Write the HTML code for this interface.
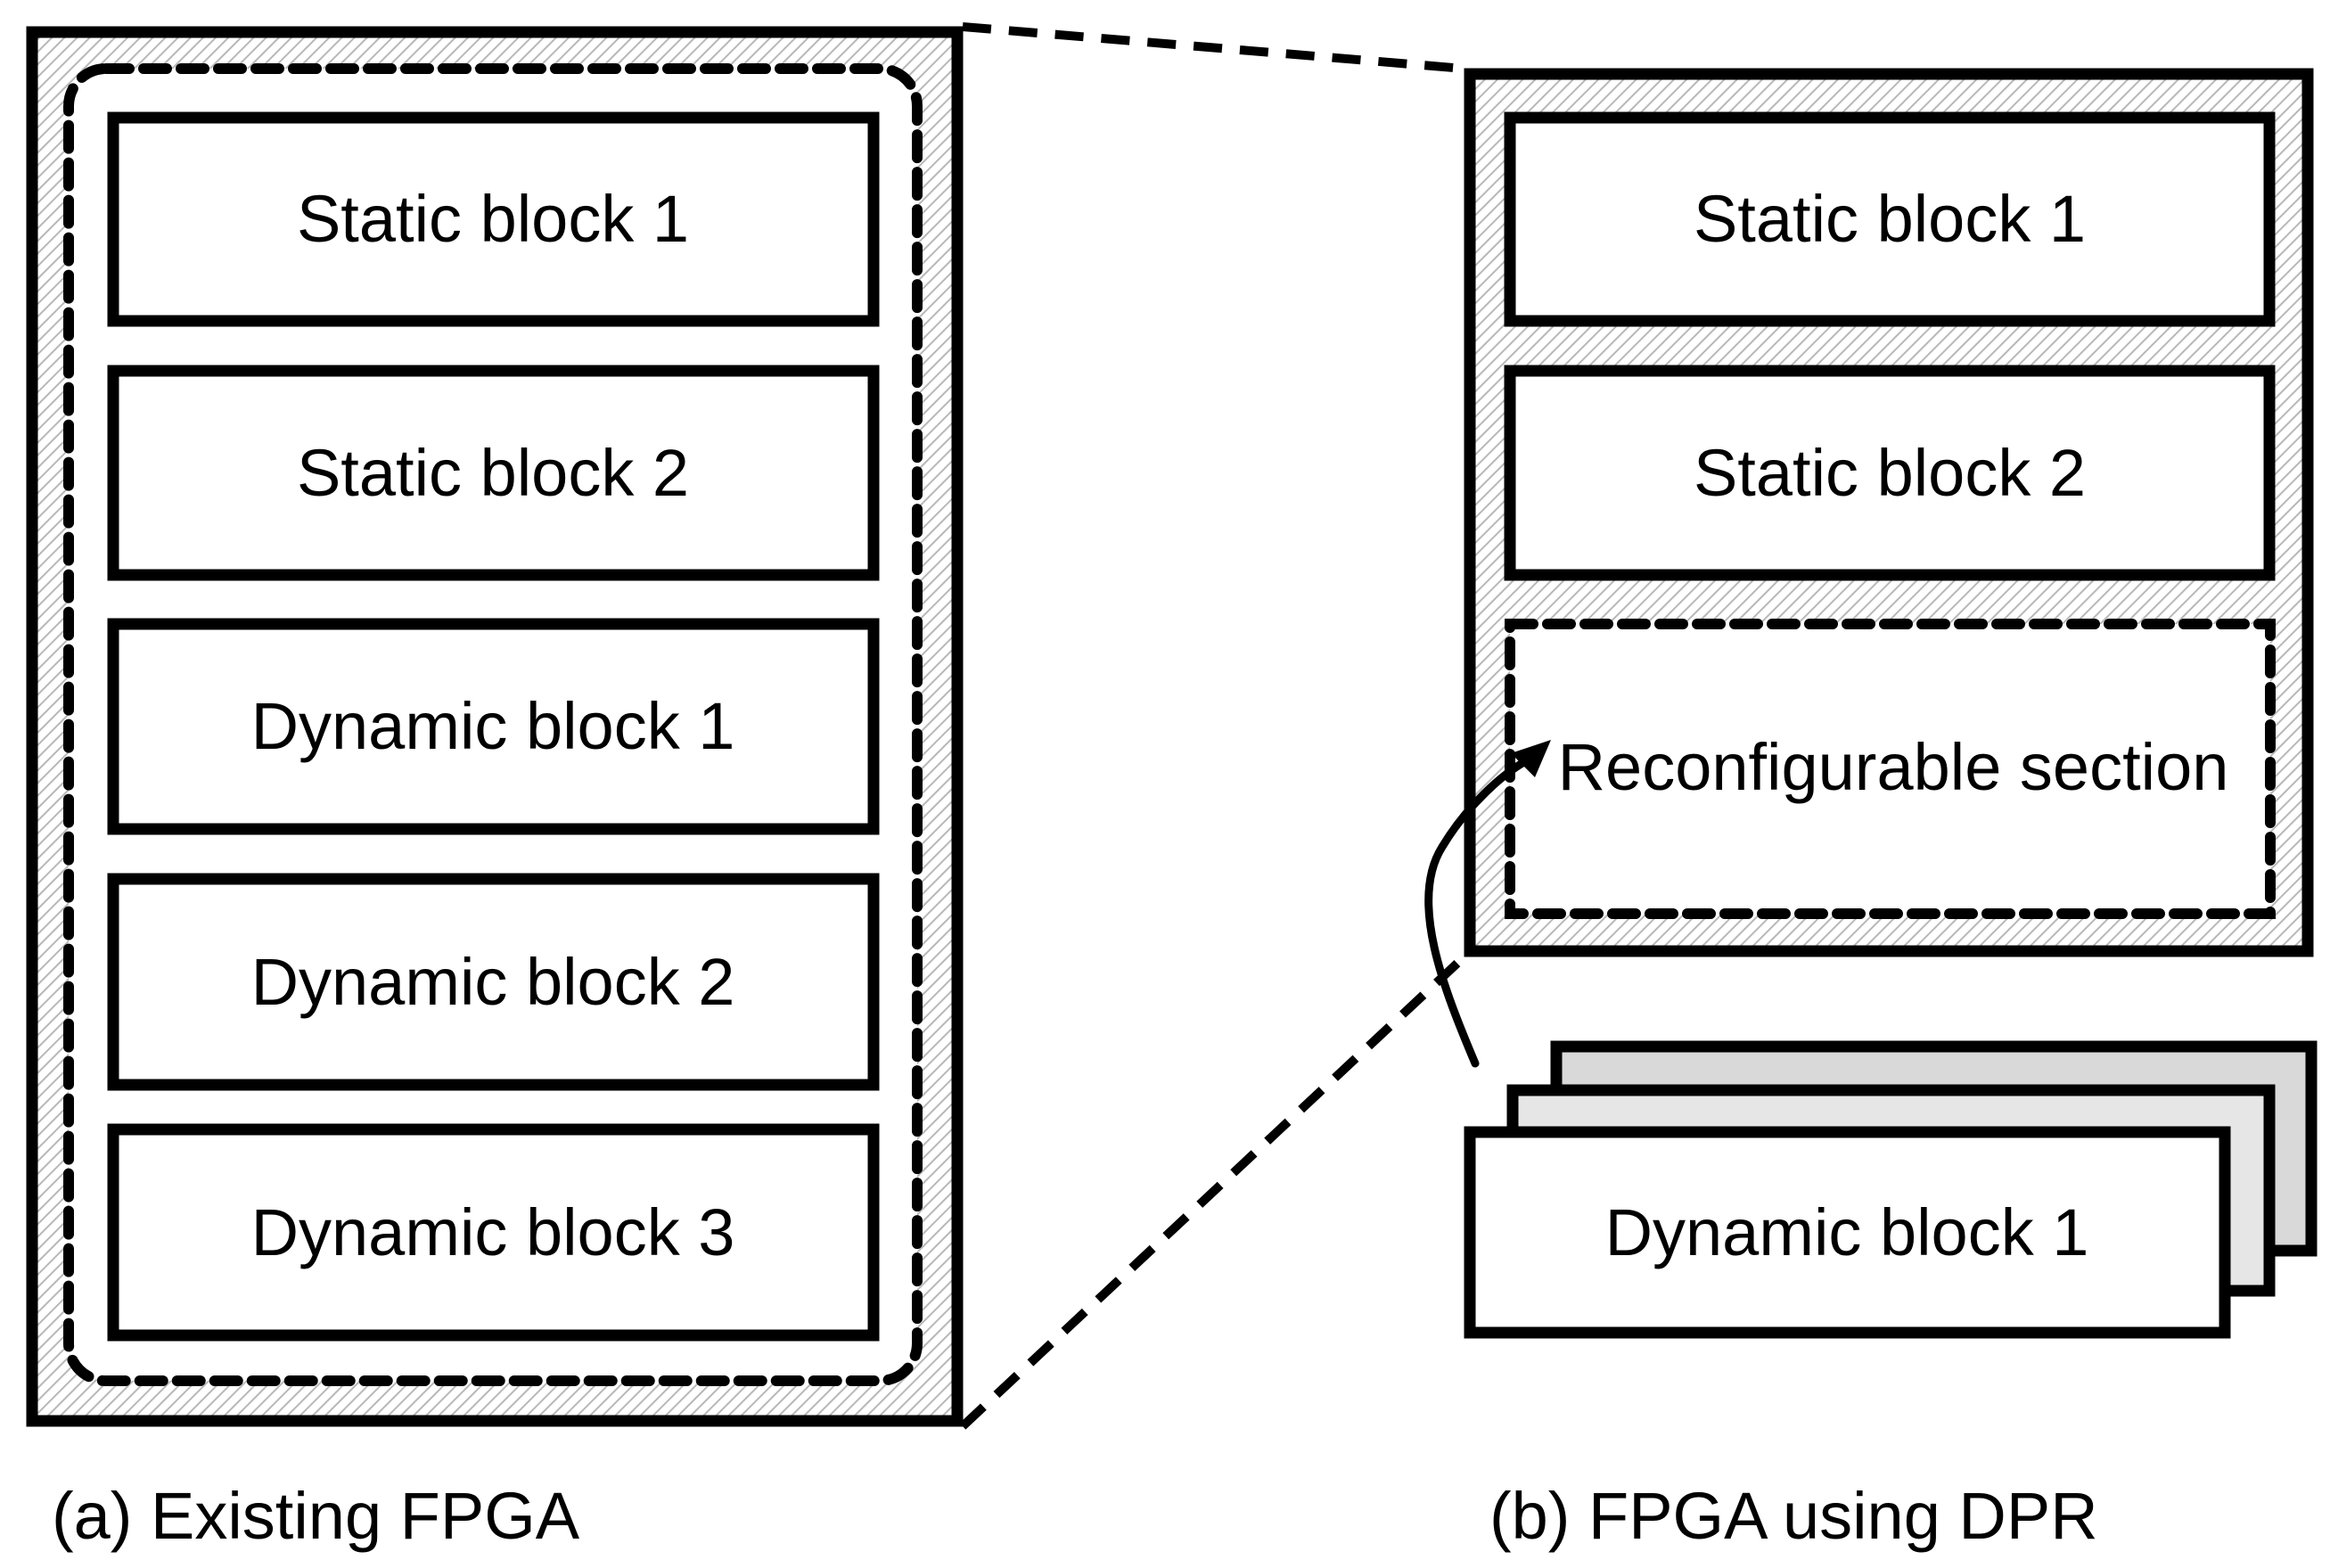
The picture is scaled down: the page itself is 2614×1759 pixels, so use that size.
<!DOCTYPE html>
<html><head><meta charset="utf-8"><style>html,body{margin:0;padding:0;background:#fff}svg{display:block}</style></head>
<body>
<svg width="2614" height="1759" viewBox="0 0 2614 1759" xmlns="http://www.w3.org/2000/svg" font-family="'Liberation Sans', sans-serif" font-size="74">
<defs>
<pattern id="h" width="10" height="10" patternUnits="userSpaceOnUse" patternTransform="rotate(45)">
<rect width="10" height="10" fill="#fff"/>
<line x1="0" y1="0" x2="0" y2="10" stroke="#b8b8b8" stroke-width="4"/>
</pattern>
</defs>
<!-- left FPGA -->
<rect x="36" y="36" width="1038" height="1558" fill="url(#h)" stroke="#000" stroke-width="13"/>
<rect x="77" y="77" width="952" height="1472" rx="42" fill="#fff" stroke="#000" stroke-width="12" stroke-dasharray="26 16" stroke-linecap="round"/>
<g fill="#fff" stroke="#000" stroke-width="13">
<rect x="127" y="132" width="853" height="228"/>
<rect x="127" y="416" width="853" height="229"/>
<rect x="127" y="700" width="853" height="230"/>
<rect x="127" y="986" width="853" height="231"/>
<rect x="127" y="1267" width="853" height="231"/>
</g>
<g text-anchor="middle" fill="#000">
<text x="553" y="271">Static block 1</text>
<text x="553" y="556">Static block 2</text>
<text x="553" y="840">Dynamic block 1</text>
<text x="553" y="1127">Dynamic block 2</text>
<text x="553" y="1408">Dynamic block 3</text>
</g>
<!-- zoom dashed lines -->
<g stroke="#000" stroke-width="10" stroke-dasharray="32 20" fill="none">
<line x1="1080" y1="30" x2="1643" y2="77"/>
<line x1="1080" y1="1600" x2="1643" y2="1073"/>
</g>
<!-- right FPGA -->
<rect x="1649" y="83" width="940" height="984" fill="url(#h)" stroke="#000" stroke-width="13"/>
<g fill="#fff" stroke="#000" stroke-width="13">
<rect x="1694" y="132" width="852" height="228"/>
<rect x="1694" y="416" width="852" height="229"/>
</g>
<rect x="1694" y="700" width="853" height="325" fill="#fff" stroke="#000" stroke-width="12" stroke-dasharray="26 16" stroke-linecap="round"/>
<g text-anchor="middle" fill="#000">
<text x="2120" y="271">Static block 1</text>
<text x="2120" y="556">Static block 2</text>
<text x="2124" y="886">Reconfigurable section</text>
</g>
<!-- stack -->
<rect x="1746" y="1174" width="847" height="229" fill="#d9d9d9" stroke="#000" stroke-width="13"/>
<rect x="1697" y="1223" width="849" height="225" fill="#e6e6e6" stroke="#000" stroke-width="13"/>
<rect x="1649" y="1270" width="847" height="225" fill="#fff" stroke="#000" stroke-width="13"/>
<text x="2072" y="1408" text-anchor="middle">Dynamic block 1</text>
<!-- curved arrow -->
<path d="M1655,1193 C1620,1110 1580,1010 1618,950 C1645,905 1685,868 1715,852" fill="none" stroke="#000" stroke-width="9" stroke-linecap="round"/>
<path d="M1740,830 L1695,845 L1722,872 Z" fill="#000"/>
<!-- captions -->
<text x="58" y="1726">(a) Existing FPGA</text>
<text x="1671" y="1726">(b) FPGA using DPR</text>
</svg>
</body></html>
